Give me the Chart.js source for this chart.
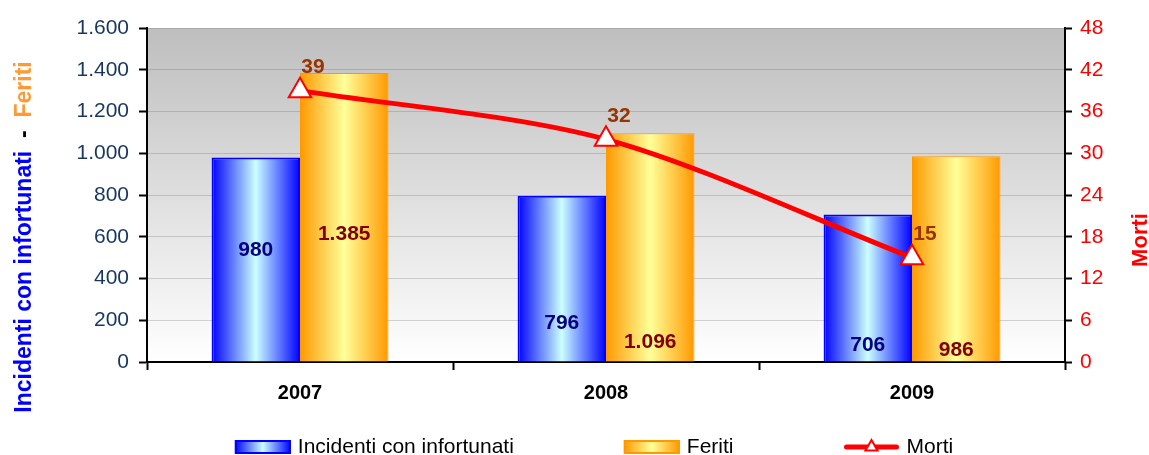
<!DOCTYPE html>
<html>
<head>
<meta charset="utf-8">
<script src="https://cdn.jsdelivr.net/npm/chart.js@4.4.1/dist/chart.umd.min.js"></script>
<style>
  html, body { margin: 0; padding: 0; background: #fff; }
</style>
</head>
<body>
<canvas id="chart" width="1149" height="455"></canvas>
<script>
// Data
const YEARS = ['2007', '2008', '2009'];
const INCIDENTI = [980, 796, 706];
const FERITI = [1385, 1096, 986];
const MORTI = [39, 32, 15];

// Tick labels
const LEFT_TICKS = ['0', '200', '400', '600', '800', '1.000', '1.200', '1.400', '1.600'];
const RIGHT_TICKS = ['0', '6', '12', '18', '24', '30', '36', '42', '48'];

const FONT = '"Liberation Sans", Arial, sans-serif';

// Italian thousands separator
function fmt(v) {
    return String(v).replace(/\B(?=(\d{3})+(?!\d))/g, '.');
}

function makeGradient(ctx, left, right, stops) {
    const g = ctx.createLinearGradient(left, 0, right, 0);
    stops.forEach(([p, c]) => g.addColorStop(p, c));
    return g;
}

const BLUE_STOPS = [[0, '#0000FF'], [0.5, '#CCFFFF'], [1, '#0000FF']];
const ORANGE_STOPS = [[0, '#FF9900'], [0.5, '#FFFF99'], [1, '#FF9900']];

// Grey gradient behind the plot area
const plotBackground = {
    id: 'plotBackground',
    beforeDraw(chart) {
        const { ctx, chartArea: a } = chart;
        const g = ctx.createLinearGradient(0, a.top, 0, a.bottom);
        g.addColorStop(0, '#BEBEBE');
        g.addColorStop(1, '#FFFFFF');
        ctx.save();
        ctx.fillStyle = g;
        ctx.fillRect(a.left, a.top, a.right - a.left, a.bottom - a.top);
        ctx.restore();
    }
};

// Horizontal "cylinder" shading on each bar
const barGradient = {
    id: 'barGradient',
    beforeDatasetsDraw(chart) {
        const ctx = chart.ctx;
        chart.data.datasets.forEach((ds, i) => {
            if (!ds.gradientStops) return;
            chart.getDatasetMeta(i).data.forEach(bar => {
                const g = makeGradient(ctx, bar.x - bar.width / 2, bar.x + bar.width / 2, ds.gradientStops);
                bar.options = Object.assign({}, bar.options, { backgroundColor: g });
            });
        });
    }
};

// Value labels
const valueLabels = {
    id: 'valueLabels',
    afterDatasetsDraw(chart, args, opts) {
        const ctx = chart.ctx;
        const yScale = chart.scales.y;
        ctx.save();
        ctx.textAlign = 'center';
        ctx.textBaseline = 'middle';
        ctx.font = 'bold 21px ' + FONT;
        chart.data.datasets.forEach((ds, i) => {
            const meta = chart.getDatasetMeta(i);
            meta.data.forEach((el, j) => {
                const text = fmt(ds.data[j]);
                if (ds.type === 'line') {
                    ctx.fillStyle = opts.lineColor;
                    ctx.fillText(text, el.x + 13, el.y - 23);
                } else {
                    ctx.fillStyle = ds.labelColor;
                    ctx.fillText(text, el.x, yScale.getPixelForValue(opts.barLabelAt[i][j]));
                }
            });
        });
        ctx.restore();
    }
};

// Rotated axis titles (left one has three colours)
const axisTitles = {
    id: 'axisTitles',
    afterDraw(chart) {
        const ctx = chart.ctx;
        ctx.save();
        ctx.font = 'bold 23px ' + FONT;
        ctx.textBaseline = 'alphabetic';
        const parts = [
            ['Incidenti con infortunati', '#0000FF'],
            ['  -  ', '#000000'],
            ['Feriti', '#FF9933']
        ];
        const total = parts.reduce((s, p) => s + ctx.measureText(p[0]).width, 0);
        ctx.translate(31, 237);
        ctx.rotate(-Math.PI / 2);
        let x = -total / 2;
        parts.forEach(([t, c]) => {
            ctx.fillStyle = c;
            ctx.fillText(t, x, 0);
            x += ctx.measureText(t).width;
        });
        ctx.restore();

        ctx.save();
        ctx.font = 'bold 22px ' + FONT;
        ctx.fillStyle = '#FF0000';
        ctx.textAlign = 'center';
        ctx.translate(1147, 240);
        ctx.rotate(-Math.PI / 2);
        ctx.fillText('Morti', 0, 0);
        ctx.restore();
    }
};

// Bottom legend drawn by hand (wide gaps between items)
const bottomLegend = {
    id: 'bottomLegend',
    afterDraw(chart) {
        const ctx = chart.ctx;
        const a = chart.chartArea;
        const boxW = 56, boxH = 14, gap = 110, textGap = 7;
        const top = 440, mid = 447;
        ctx.save();
        ctx.font = '21px ' + FONT;
        ctx.textBaseline = 'middle';
        const items = chart.data.datasets.map(ds => ({ ds, w: boxW + textGap + ctx.measureText(ds.label).width }));
        const total = items.reduce((s, it) => s + it.w, 0) + gap * (items.length - 1);
        let x = (a.left + a.right) / 2 - 12 - total / 2;
        items.forEach(({ ds, w }) => {
            if (ds.type === 'line') {
                ctx.strokeStyle = ds.borderColor;
                ctx.lineWidth = 5;
                ctx.lineCap = 'round';
                ctx.beginPath();
                ctx.moveTo(x + 3, mid);
                ctx.lineTo(x + boxW - 3, mid);
                ctx.stroke();
                const cx = x + boxW / 2, r = 7;
                ctx.beginPath();
                ctx.moveTo(cx, mid - r);
                ctx.lineTo(cx + r * 0.866, mid + r / 2);
                ctx.lineTo(cx - r * 0.866, mid + r / 2);
                ctx.closePath();
                ctx.fillStyle = '#FFFFFF';
                ctx.fill();
                ctx.lineWidth = 2;
                ctx.lineCap = 'butt';
                ctx.stroke();
            } else {
                ctx.fillStyle = makeGradient(ctx, x, x + boxW, ds.gradientStops);
                ctx.fillRect(x, top, boxW, boxH);
                ctx.strokeStyle = ds.borderColor;
                ctx.lineWidth = 2;
                ctx.strokeRect(x + 1, top + 1, boxW - 2, boxH - 2);
            }
            ctx.fillStyle = '#000000';
            ctx.fillText(ds.label, x + boxW + textGap, mid);
            x += w + gap;
        });
        ctx.restore();
    }
};

new Chart(document.getElementById('chart'), {
    type: 'bar',
    data: {
        labels: YEARS,
        datasets: [
            {
                label: 'Incidenti con infortunati',
                data: INCIDENTI,
                yAxisID: 'y',
                backgroundColor: '#6699FF',
                gradientStops: BLUE_STOPS,
                borderColor: '#0000FF',
                borderWidth: 2,
                labelColor: '#000080',
                categoryPercentage: 0.578,
                barPercentage: 1,
                order: 1
            },
            {
                label: 'Feriti',
                data: FERITI,
                yAxisID: 'y',
                backgroundColor: '#FFCC66',
                gradientStops: ORANGE_STOPS,
                borderColor: '#FF9900',
                borderWidth: 1,
                labelColor: '#800000',
                categoryPercentage: 0.578,
                barPercentage: 1,
                order: 1
            },
            {
                type: 'line',
                label: 'Morti',
                data: MORTI,
                yAxisID: 'y1',
                borderColor: '#FF0000',
                borderWidth: 5,
                tension: 0.3,
                pointStyle: 'triangle',
                pointRadius: 13,
                pointBackgroundColor: '#FFFFFF',
                pointBorderColor: '#FF0000',
                pointBorderWidth: 2,
                order: 0
            }
        ]
    },
    options: {
        responsive: false,
        animation: false,
        layout: { padding: { top: 28, left: 0, right: 0, bottom: 0 } },
        plugins: {
            legend: { display: false },
            tooltip: { enabled: false },
            valueLabels: {
                lineColor: '#993300',
                // where the bar labels sit, in left-axis units
                barLabelAt: [[536, 187, 81], [613, 96, 57]]
            }
        },
        scales: {
            x: {
                offset: true,
                grid: { offset: true, drawOnChartArea: false, tickLength: 8, tickColor: '#000', tickWidth: 2 },
                border: { color: '#000', width: 2 },
                ticks: { color: '#000', font: { family: FONT, size: 20, weight: 'bold' }, padding: 11 },
                afterFit: s => { s.height = 93; }
            },
            y: {
                position: 'left',
                min: 0,
                max: 1600,
                grid: { color: 'rgba(90,90,90,0.25)', tickColor: '#000', tickLength: 8, tickWidth: 2 },
                border: { color: '#000', width: 2 },
                ticks: {
                    stepSize: 200,
                    color: '#17375E',
                    padding: 10,
                    font: { family: FONT, size: 21 },
                    callback: (v, i) => LEFT_TICKS[i]
                },
                afterFit: s => { s.width = 147; }
            },
            y1: {
                position: 'right',
                min: 0,
                max: 48,
                grid: { drawOnChartArea: false, tickColor: '#000', tickLength: 7, tickWidth: 2 },
                border: { color: '#000', width: 2 },
                ticks: {
                    stepSize: 6,
                    color: '#FF0000',
                    padding: 8,
                    font: { family: FONT, size: 21 },
                    callback: (v, i) => RIGHT_TICKS[i]
                },
                afterFit: s => { s.width = 84; }
            }
        }
    },
    plugins: [plotBackground, barGradient, valueLabels, axisTitles, bottomLegend]
});
</script>
</body>
</html>
